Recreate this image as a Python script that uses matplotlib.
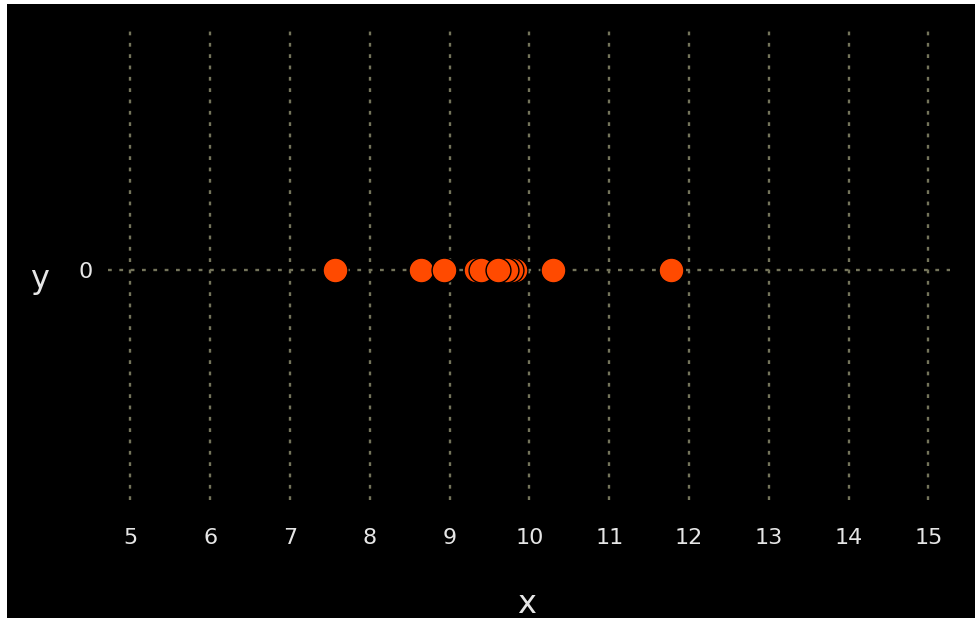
import matplotlib
matplotlib.use("Agg")
import matplotlib.pyplot as plt
from matplotlib.patches import Rectangle

# data (draw order matters for the overlapping dots)
x_values = [7.56, 8.64, 8.93, 9.33, 9.82, 9.39, 9.77, 9.71, 9.61, 10.29, 11.78]
y_values = [0, 0, 0, 0, 0, 0, 0, 0, 0, 0, 0]
x_ticks = [5, 6, 7, 8, 9, 10, 11, 12, 13, 14, 15]
y_ticks = [0]

W, H = 975, 625
DPI = 100
BG = "black"
GRID = "#74745a"
TXT = "#e6e6e6"
DOT = "#ff4a00"

fig = plt.figure(figsize=(W / DPI, H / DPI), dpi=DPI, facecolor="white")
# black canvas with a thin white margin like the screenshot
fig.patches.append(Rectangle((7 / W, 7 / H), 1 - 7 / W, 1 - 11 / H,
                             transform=fig.transFigure, facecolor=BG,
                             edgecolor="none", zorder=-10))

# axes box in pixels: left 108, right 950, top 30, bottom 500
ax = fig.add_axes([108 / W, (H - 500) / H, (950 - 108) / W, 470 / H])
ax.set_facecolor("none")
ax.set_xlim(4.72, 15.27)
ax.set_ylim(-0.96, 1.0)

ax.set_xticks(x_ticks)
ax.set_yticks(y_ticks)
ax.grid(True, color=GRID, linestyle=(0, (1.6, 3.2)), linewidth=1.7)
ax.set_axisbelow(True)
for sp in ax.spines.values():
    sp.set_visible(False)
ax.tick_params(axis="x", length=0, pad=20, labelsize=16, labelcolor=TXT)
ax.tick_params(axis="y", length=0, pad=11, labelsize=16, labelcolor=TXT)

ax.scatter(x_values, y_values, s=320, color=DOT, edgecolors="black",
           linewidths=1.0, zorder=3)

ax.set_xlabel("x", fontsize=23, color=TXT)
ax.xaxis.set_label_coords(0.4976, -0.223)
ax.xaxis.label.set_va("center")
ax.set_ylabel("y", fontsize=23, color=TXT, rotation=0)
ax.yaxis.set_label_coords(-0.0808, 0.47)
ax.yaxis.label.set_va("center")
ax.yaxis.label.set_ha("center")

fig.savefig("out.png", dpi=DPI, facecolor=fig.get_facecolor())
